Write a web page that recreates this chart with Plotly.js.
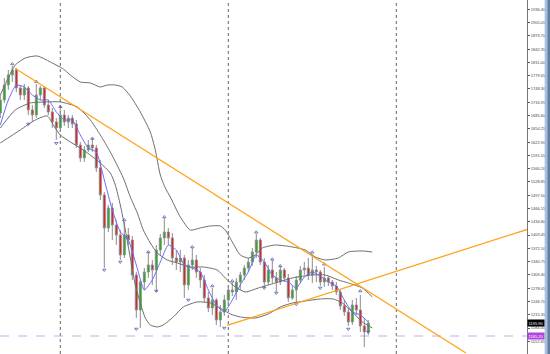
<!DOCTYPE html>
<html><head><meta charset="utf-8">
<script src="https://cdn.plot.ly/plotly-3.0.1.min.js"></script>
<style>html,body{margin:0;padding:0;background:#fff;}#chart{width:550px;height:354px;}</style>
</head><body><div id="chart"></div>
<script>
// ---- candles (bar index 0..92) ----
const opens  = [1691.6,1722.3,1757.7,1781.3,1793.2,1750.7,1734.1,1750.7,1698.7,1686.9,1734.1,1750.7,1710.5,1694.0,1670.4,1656.2,1686.9,1670.4,1679.8,1665.7,1616.1,1585.4,1604.3,1616.1,1609.0,1561.8,1498.1,1420.2,1467.4,1427.2,1403.6,1356.4,1403.6,1391.8,1309.2,1226.6,1292.7,1316.3,1332.8,1321.0,1368.2,1396.6,1410.7,1396.6,1349.3,1339.9,1349.3,1285.6,1332.8,1344.6,1316.3,1297.4,1254.9,1231.3,1250.2,1203.0,1221.9,1250.2,1273.8,1269.1,1292.7,1309.2,1325.7,1339.9,1363.5,1391.8,1339.9,1292.7,1321.0,1302.1,1292.7,1321.0,1302.1,1254.9,1273.8,1297.4,1321.0,1325.7,1309.2,1321.0,1316.3,1292.7,1302.1,1292.7,1283.2,1269.1,1236.0,1221.9,1198.3,1238.4,1226.6,1188.8,1174.7];
const closes = [1722.3,1757.7,1781.3,1793.2,1750.7,1734.1,1750.7,1698.7,1686.9,1734.1,1750.7,1710.5,1694.0,1670.4,1656.2,1686.9,1670.4,1679.8,1665.7,1616.1,1585.4,1604.3,1616.1,1609.0,1561.8,1498.1,1420.2,1467.4,1427.2,1403.6,1356.4,1403.6,1391.8,1309.2,1226.6,1292.7,1316.3,1332.8,1321.0,1368.2,1396.6,1410.7,1396.6,1349.3,1339.9,1349.3,1285.6,1332.8,1344.6,1316.3,1297.4,1254.9,1231.3,1250.2,1203.0,1221.9,1250.2,1273.8,1269.1,1292.7,1309.2,1325.7,1339.9,1363.5,1391.8,1339.9,1292.7,1321.0,1302.1,1292.7,1321.0,1302.1,1254.9,1273.8,1297.4,1321.0,1325.7,1309.2,1321.0,1316.3,1292.7,1302.1,1292.7,1283.2,1269.1,1236.0,1221.9,1198.3,1238.4,1226.6,1188.8,1174.7,1195.9];
const highs  = [1734.1,1774.3,1793.2,1802.6,1797.9,1757.7,1760.1,1755.4,1710.5,1760.1,1755.4,1753.0,1722.3,1703.4,1679.8,1703.4,1698.7,1686.9,1686.9,1675.1,1623.2,1613.7,1627.9,1632.6,1616.1,1580.7,1505.1,1474.5,1479.2,1439.0,1415.4,1434.3,1420.2,1401.3,1316.3,1297.4,1325.7,1363.5,1344.6,1380.0,1406.0,1443.8,1420.2,1408.4,1368.2,1368.2,1356.4,1344.6,1372.9,1356.4,1325.7,1309.2,1269.1,1278.5,1254.9,1238.4,1262.0,1285.6,1292.7,1302.1,1316.3,1332.8,1349.3,1372.9,1406.0,1396.6,1349.3,1332.8,1344.6,1316.3,1330.5,1325.7,1311.6,1285.6,1306.8,1330.5,1339.9,1349.3,1356.4,1330.5,1321.0,1328.1,1306.8,1297.4,1292.7,1273.8,1250.2,1231.3,1250.2,1254.9,1262.0,1207.7,1203.0];
const lows   = [1679.8,1715.2,1745.9,1764.8,1741.2,1722.3,1722.3,1686.9,1670.4,1679.8,1722.3,1703.4,1686.9,1656.2,1627.9,1646.8,1661.0,1656.2,1656.2,1609.0,1576.0,1576.0,1599.6,1599.6,1552.4,1486.3,1325.7,1410.7,1391.8,1380.0,1344.6,1349.3,1380.0,1297.4,1207.7,1184.1,1273.8,1302.1,1285.6,1269.1,1356.4,1380.0,1380.0,1332.8,1321.0,1316.3,1254.9,1273.8,1321.0,1302.1,1278.5,1245.5,1221.9,1214.8,1191.2,1186.5,1212.4,1238.4,1259.6,1250.2,1273.8,1297.4,1316.3,1330.5,1349.3,1332.8,1278.5,1285.6,1290.3,1269.1,1285.6,1292.7,1245.5,1250.2,1243.1,1290.3,1309.2,1297.4,1290.3,1292.7,1283.2,1280.9,1283.2,1273.8,1262.0,1226.6,1212.4,1188.8,1191.2,1214.8,1174.7,1139.2,1167.6];

// ---- Bollinger bands (bar position, price) ----
const upperX = [0,2,3.75,6.25,9.25,12.5,15.75,17.5,20,22.5,25,26.75,28.75,30.5,32.5,35,37.5,38.75,40,41.25,42.5,45,47.5,50,52.5,55,56.25,58,60,62,63.75,65.5,68.75,73,76.25,78.75,81.25,84.5,87,90.5,93];
const upperY = [1734.1,1774.3,1805.0,1821.5,1826.2,1812.0,1795.5,1781.3,1764.8,1762.5,1753.0,1757.7,1757.7,1753.0,1731.8,1694.0,1646.8,1604.3,1545.3,1514.6,1493.3,1446.1,1415.4,1420.2,1424.9,1424.9,1415.4,1387.1,1356.4,1349.3,1356.4,1372.9,1380.0,1375.3,1368.2,1351.7,1344.6,1349.3,1363.5,1365.9,1363.5];
const middleX = [0,3.75,7.5,11.25,15,19.25,22.5,25,27.5,30.75,32.5,34.25,35.75,37.5,39.25,41.75,44.25,47.5,50.75,54.25,56.25,58.75,61.25,64.5,68.75,73,78,81.25,84.5,87,90.5,93];
const middleY = [1656.2,1698.7,1715.2,1717.6,1717.6,1705.8,1675.1,1639.7,1599.6,1538.2,1493.3,1455.6,1415.4,1384.8,1361.1,1344.6,1337.5,1328.1,1328.1,1321.0,1302.1,1280.9,1269.1,1278.5,1290.3,1302.1,1309.2,1309.2,1297.4,1290.3,1278.5,1257.3];
const lowerX = [0,5,8.75,11.75,13.25,15,17.5,20.75,25,27.5,28.75,30,31.25,32.5,33.75,35,36.25,37.5,39.25,40.75,43.25,45.75,49.25,52.5,55.75,57.5,60,63.75,67,70,73,76.25,80,83.25,85.5,88,90.5,93];
const lowerY = [1620.8,1651.5,1675.1,1684.6,1663.3,1639.7,1623.2,1604.3,1573.6,1550.0,1521.7,1474.5,1415.4,1349.3,1285.6,1243.1,1207.7,1191.2,1186.5,1191.2,1210.1,1233.7,1245.5,1243.1,1226.6,1217.1,1210.1,1207.7,1217.1,1233.7,1243.1,1247.8,1252.6,1252.6,1243.1,1221.9,1198.3,1184.1];

// ---- fast moving average (blue) ----
const maX = [0,2,4,6,8,10,12,14,16,18,20,22,24,26,28,30,32,34,36,38,40,42,44,46,48,50,52,54,56,58,60,62,64,66,68,70,72,74,76,78,80,82,84,86,88,90,92];
const maY = [1663.3,1722.3,1757.7,1753.0,1734.1,1722.3,1722.3,1694.0,1675.1,1675.1,1639.7,1609.0,1599.6,1533.5,1462.7,1410.7,1391.8,1332.8,1273.8,1297.4,1339.9,1380.0,1368.2,1332.8,1325.7,1316.3,1273.8,1238.4,1221.9,1250.2,1285.6,1316.3,1356.4,1339.9,1309.2,1297.4,1292.7,1278.5,1304.5,1316.3,1306.8,1292.7,1283.2,1250.2,1221.9,1214.8,1198.3];

// ---- fractals ----
const fracUpX = [3,9,15,23,31,37,41,48,53,58,64,68,70,78,81,90];
const fracUpY = [1807.3,1765.5,1706.5,1631.4,1439.0,1363.5,1446.1,1375.3,1283.2,1295.0,1410.0,1346.3,1330.5,1362.8,1334.5,1271.4];
const fracDnX = [7,14,26,30,34,39,47,56,66,69,74,80,87,92];
const fracDnY = [1665.7,1620.1,1321.0,1339.9,1181.7,1271.4,1250.2,1184.1,1278.5,1266.7,1240.0,1278.5,1181.7,1174.7];

// ---- trend lines (anchor points) ----
const trend1X = [3.675,116.4];
const trend1Y = [1797.1,1125.0];
const trend2X = [56.675,131.675];
const trend2Y = [1190.0,1416.6];

// ---- separators, levels, axis labels ----
const separatorBars = [15,57,99];
const bidPrice = 1195.9;
const bidLabel = "1195.90";
const levelPrice = 1165.2;
const levelLabel = "1165.20";
const tickPrices = [1936.40,1905.05,1873.70,1842.35,1811.00,1779.65,1748.30,1716.95,1685.60,1654.25,1622.90,1591.55,1560.20,1528.85,1497.50,1466.15,1434.80,1403.45,1372.10,1340.75,1309.40,1278.05,1246.70,1215.35,1184.00,1152.65,1121.30];
const tickLabels = tickPrices.map(v => v.toFixed(2));

const barIndex = opens.map((_, i) => i);

const traces = [
  {type:'scatter', mode:'lines', x:upperX, y:upperY, line:{color:'#6e6e6e', width:1, shape:'spline', smoothing:0.6}, hoverinfo:'skip'},
  {type:'scatter', mode:'lines', x:middleX, y:middleY, line:{color:'#6e6e6e', width:1, shape:'spline', smoothing:0.6}, hoverinfo:'skip'},
  {type:'scatter', mode:'lines', x:lowerX, y:lowerY, line:{color:'#6e6e6e', width:1, shape:'spline', smoothing:0.6}, hoverinfo:'skip'},
  {type:'candlestick', x:barIndex, open:opens, high:highs, low:lows, close:closes,
   increasing:{line:{color:'#8c8c8c', width:1}, fillcolor:'#00c000'},
   decreasing:{line:{color:'#8c8c8c', width:1}, fillcolor:'#ff0000'},
   whiskerwidth:0, hoverinfo:'skip'},
  {type:'scatter', mode:'lines', x:maX, y:maY, line:{color:'#6a6aff', width:1, shape:'spline', smoothing:0.5}, hoverinfo:'skip'},
  {type:'scatter', mode:'markers', x:fracUpX, y:fracUpY, marker:{symbol:'triangle-up-open', size:3, color:'#5a5ab8', line:{width:0.8, color:'#5a5ab8'}}, hoverinfo:'skip'},
  {type:'scatter', mode:'markers', x:fracDnX, y:fracDnY, marker:{symbol:'triangle-down-open', size:3, color:'#5a5ab8', line:{width:0.8, color:'#5a5ab8'}}, hoverinfo:'skip'},
  {type:'scatter', mode:'lines', x:trend1X, y:trend1Y, line:{color:'#ffa31a', width:1.3}, hoverinfo:'skip'},
  {type:'scatter', mode:'lines', x:trend2X, y:trend2Y, line:{color:'#ffa31a', width:1.3}, hoverinfo:'skip'}
];

const shapes = separatorBars.map(b => ({type:'line', xref:'x', yref:'paper', x0:b, x1:b, y0:0, y1:1, line:{color:'#666', width:1, dash:'dot'}, layer:'below'}));
shapes.push({type:'line', xref:'paper', yref:'y', x0:0, x1:1, y0:levelPrice, y1:levelPrice, line:{color:'#d6a4f0', width:1.2, dash:'dash'}, layer:'below'});
// window frame strip at the right edge
shapes.push({type:'rect', xref:'paper', yref:'paper', x0:1.0335, x1:1.0385, y0:0, y1:1, fillcolor:'#a9c1da', line:{width:0}});
shapes.push({type:'rect', xref:'paper', yref:'paper', x0:1.0385, x1:1.05, y0:0, y1:1, fillcolor:'#5f7fa5', line:{width:0}});

const annotations = [
  {xref:'paper', yref:'y', x:1.0005, y:bidPrice, xanchor:'left', yanchor:'middle', text:bidLabel, showarrow:false, bgcolor:'#000', font:{family:'Liberation Sans', size:4, color:'#fff'}, borderpad:0.6},
  {xref:'paper', yref:'y', x:1.0005, y:levelPrice, xanchor:'left', yanchor:'middle', text:levelLabel, showarrow:false, bgcolor:'#b044e0', font:{family:'Liberation Sans', size:4, color:'#fff'}, borderpad:0.6}
];

const layout = {
  width:550, height:354,
  margin:{l:0, r:23, t:0, b:0, pad:0},
  paper_bgcolor:'#ffffff', plot_bgcolor:'#ffffff',
  showlegend:false,
  xaxis:{range:[-0.075,131.675], showgrid:false, zeroline:false, showticklabels:false, ticks:'', showline:false, rangeslider:{visible:false}, fixedrange:true},
  yaxis:{side:'right', range:[1122.67,1958.35], tickvals:tickPrices, ticktext:tickLabels, ticks:'outside', ticklen:2, tickcolor:'#555', showline:true, linecolor:'#777', linewidth:1, showgrid:false, zeroline:false, tickfont:{family:'Liberation Sans', size:4, color:'#444'}, fixedrange:true},
  shapes:shapes,
  annotations:annotations
};

Plotly.newPlot('chart', traces, layout, {displayModeBar:false, staticPlot:true});
</script>
</body></html>
